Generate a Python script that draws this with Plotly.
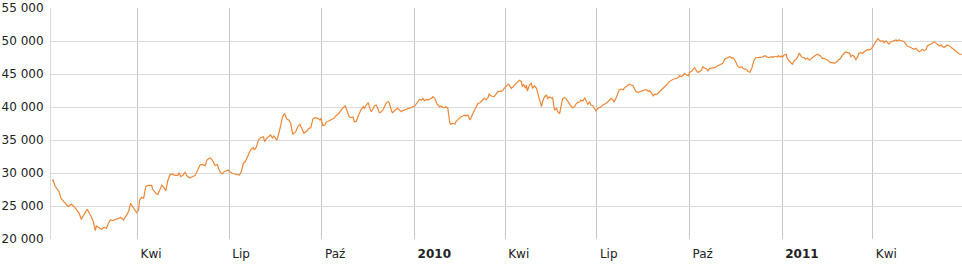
import plotly.graph_objects as go

dates = [
    "2009-01-06", "2009-01-07", "2009-01-09", "2009-01-12", "2009-01-13", "2009-01-15", "2009-01-17", "2009-01-19",
    "2009-01-22", "2009-01-24", "2009-01-25", "2009-01-28", "2009-01-30", "2009-02-02", "2009-02-04", "2009-02-06",
    "2009-02-08", "2009-02-10", "2009-02-12", "2009-02-14", "2009-02-16", "2009-02-18", "2009-02-19", "2009-02-22",
    "2009-02-24", "2009-02-27", "2009-03-01", "2009-03-03", "2009-03-05", "2009-03-08", "2009-03-10", "2009-03-13",
    "2009-03-15", "2009-03-18", "2009-03-20", "2009-03-23", "2009-03-25", "2009-03-27", "2009-03-29", "2009-03-31",
    "2009-04-02", "2009-04-03", "2009-04-05", "2009-04-07", "2009-04-09", "2009-04-11", "2009-04-15", "2009-04-16",
    "2009-04-19", "2009-04-21", "2009-04-23", "2009-04-25", "2009-04-27", "2009-04-29", "2009-05-01", "2009-05-03",
    "2009-05-05", "2009-05-08", "2009-05-11", "2009-05-12", "2009-05-14", "2009-05-16", "2009-05-18", "2009-05-20",
    "2009-05-23", "2009-05-25", "2009-05-28", "2009-05-30", "2009-06-02", "2009-06-04", "2009-06-07", "2009-06-09",
    "2009-06-12", "2009-06-14", "2009-06-16", "2009-06-17", "2009-06-19", "2009-06-22", "2009-06-24", "2009-06-26",
    "2009-06-30", "2009-07-02", "2009-07-05", "2009-07-08", "2009-07-11", "2009-07-13", "2009-07-15", "2009-07-17",
    "2009-07-19", "2009-07-21", "2009-07-23", "2009-07-25", "2009-07-26", "2009-07-28", "2009-07-30", "2009-08-01",
    "2009-08-04", "2009-08-05", "2009-08-07", "2009-08-09", "2009-08-11", "2009-08-13", "2009-08-14", "2009-08-17",
    "2009-08-18", "2009-08-20", "2009-08-22", "2009-08-23", "2009-08-25", "2009-08-27", "2009-08-29", "2009-08-31",
    "2009-09-02", "2009-09-05", "2009-09-07", "2009-09-09", "2009-09-11", "2009-09-13", "2009-09-16", "2009-09-18",
    "2009-09-20", "2009-09-22", "2009-09-24", "2009-09-27", "2009-09-29", "2009-09-30", "2009-10-02", "2009-10-04",
    "2009-10-05", "2009-10-08", "2009-10-10", "2009-10-13", "2009-10-15", "2009-10-18", "2009-10-20", "2009-10-22",
    "2009-10-24", "2009-10-25", "2009-10-28", "2009-10-30", "2009-11-01", "2009-11-02", "2009-11-04", "2009-11-06",
    "2009-11-07", "2009-11-09", "2009-11-11", "2009-11-12", "2009-11-14", "2009-11-16", "2009-11-17", "2009-11-19",
    "2009-11-21", "2009-11-22", "2009-11-24", "2009-11-26", "2009-11-27", "2009-11-29", "2009-12-01", "2009-12-02",
    "2009-12-04", "2009-12-06", "2009-12-07", "2009-12-09", "2009-12-10", "2009-12-12", "2009-12-14", "2009-12-15",
    "2009-12-17", "2009-12-19", "2009-12-20", "2009-12-22", "2009-12-25", "2009-12-29", "2010-01-01", "2010-01-03",
    "2010-01-04", "2010-01-06", "2010-01-08", "2010-01-09", "2010-01-11", "2010-01-13", "2010-01-14", "2010-01-16",
    "2010-01-18", "2010-01-19", "2010-01-21", "2010-01-23", "2010-01-24", "2010-01-26", "2010-01-27", "2010-01-29",
    "2010-01-31", "2010-02-01", "2010-02-03", "2010-02-05", "2010-02-06", "2010-02-08", "2010-02-10", "2010-02-11",
    "2010-02-13", "2010-02-15", "2010-02-16", "2010-02-18", "2010-02-20", "2010-02-21", "2010-02-23", "2010-02-25",
    "2010-02-26", "2010-02-28", "2010-03-02", "2010-03-03", "2010-03-05", "2010-03-07", "2010-03-10", "2010-03-11",
    "2010-03-13", "2010-03-15", "2010-03-16", "2010-03-18", "2010-03-21", "2010-03-23", "2010-03-25", "2010-03-28",
    "2010-03-30", "2010-03-31", "2010-04-02", "2010-04-04", "2010-04-05", "2010-04-07", "2010-04-09", "2010-04-10",
    "2010-04-12", "2010-04-14", "2010-04-15", "2010-04-17", "2010-04-18", "2010-04-19", "2010-04-21", "2010-04-22",
    "2010-04-23", "2010-04-25", "2010-04-27", "2010-04-28", "2010-04-30", "2010-05-02", "2010-05-03", "2010-05-05",
    "2010-05-07", "2010-05-08", "2010-05-10", "2010-05-12", "2010-05-13", "2010-05-15", "2010-05-17", "2010-05-18",
    "2010-05-20", "2010-05-22", "2010-05-23", "2010-05-25", "2010-05-27", "2010-05-28", "2010-05-30", "2010-05-31",
    "2010-06-02", "2010-06-04", "2010-06-05", "2010-06-07", "2010-06-09", "2010-06-10", "2010-06-12", "2010-06-14",
    "2010-06-15", "2010-06-17", "2010-06-19", "2010-06-20", "2010-06-22", "2010-06-24", "2010-06-25", "2010-06-27",
    "2010-06-29", "2010-06-30", "2010-07-02", "2010-07-04", "2010-07-05", "2010-07-07", "2010-07-09", "2010-07-10",
    "2010-07-12", "2010-07-14", "2010-07-15", "2010-07-17", "2010-07-18", "2010-07-20", "2010-07-22", "2010-07-23",
    "2010-07-25", "2010-07-27", "2010-07-28", "2010-07-30", "2010-08-01", "2010-08-02", "2010-08-04", "2010-08-06",
    "2010-08-07", "2010-08-09", "2010-08-11", "2010-08-14", "2010-08-17", "2010-08-19", "2010-08-21", "2010-08-22",
    "2010-08-24", "2010-08-26", "2010-08-27", "2010-08-29", "2010-08-31", "2010-09-01", "2010-09-03", "2010-09-05",
    "2010-09-06", "2010-09-08", "2010-09-10", "2010-09-11", "2010-09-13", "2010-09-15", "2010-09-16", "2010-09-18",
    "2010-09-20", "2010-09-21", "2010-09-23", "2010-09-25", "2010-09-26", "2010-09-28", "2010-09-30", "2010-10-01",
    "2010-10-03", "2010-10-04", "2010-10-06", "2010-10-08", "2010-10-09", "2010-10-11", "2010-10-13", "2010-10-14",
    "2010-10-16", "2010-10-18", "2010-10-19", "2010-10-21", "2010-10-23", "2010-10-26", "2010-10-29", "2010-11-02",
    "2010-11-03", "2010-11-05", "2010-11-07", "2010-11-08", "2010-11-10", "2010-11-12", "2010-11-13", "2010-11-15",
    "2010-11-17", "2010-11-18", "2010-11-20", "2010-11-22", "2010-11-23", "2010-11-25", "2010-11-27", "2010-11-28",
    "2010-11-30", "2010-12-02", "2010-12-03", "2010-12-04", "2010-12-06", "2010-12-08", "2010-12-10", "2010-12-12",
    "2010-12-13", "2010-12-15", "2010-12-17", "2010-12-18", "2010-12-20", "2010-12-22", "2010-12-23", "2010-12-25",
    "2010-12-27", "2010-12-28", "2010-12-30", "2010-12-31", "2011-01-01", "2011-01-03", "2011-01-05", "2011-01-06",
    "2011-01-08", "2011-01-10", "2011-01-11", "2011-01-13", "2011-01-15", "2011-01-16", "2011-01-18", "2011-01-20",
    "2011-01-21", "2011-01-23", "2011-01-24", "2011-01-26", "2011-01-28", "2011-01-29", "2011-01-31", "2011-02-02",
    "2011-02-03", "2011-02-05", "2011-02-07", "2011-02-08", "2011-02-10", "2011-02-12", "2011-02-13", "2011-02-15",
    "2011-02-17", "2011-02-18", "2011-02-20", "2011-02-22", "2011-02-23", "2011-02-25", "2011-02-27", "2011-02-28",
    "2011-03-02", "2011-03-04", "2011-03-05", "2011-03-07", "2011-03-09", "2011-03-10", "2011-03-12", "2011-03-14",
    "2011-03-15", "2011-03-17", "2011-03-18", "2011-03-20", "2011-03-22", "2011-03-23", "2011-03-25", "2011-03-27",
    "2011-03-28", "2011-03-30", "2011-04-01", "2011-04-02", "2011-04-03", "2011-04-05", "2011-04-06", "2011-04-08",
    "2011-04-09", "2011-04-11", "2011-04-12", "2011-04-14", "2011-04-16", "2011-04-17", "2011-04-19", "2011-04-21",
    "2011-04-22", "2011-04-24", "2011-04-25", "2011-04-27", "2011-04-29", "2011-04-30", "2011-05-02", "2011-05-04",
    "2011-05-05", "2011-05-07", "2011-05-09", "2011-05-10", "2011-05-12", "2011-05-14", "2011-05-15", "2011-05-17",
    "2011-05-19", "2011-05-20", "2011-05-22", "2011-05-24", "2011-05-25", "2011-05-27", "2011-05-29", "2011-05-30",
    "2011-06-01", "2011-06-03", "2011-06-04", "2011-06-06", "2011-06-08", "2011-06-09", "2011-06-11", "2011-06-13",
    "2011-06-14", "2011-06-16", "2011-06-18", "2011-06-19", "2011-06-21", "2011-06-23", "2011-06-24", "2011-06-26",
    "2011-06-28",
]

index_values = [
    28830, 28940, 28030, 27420, 27170, 26160, 25800, 25500,
    24890, 25150, 25300, 24890, 24500, 23890, 22980, 23480,
    24140, 24500, 23890, 23380, 22620, 21260, 21970, 21620,
    21470, 21770, 21620, 22380, 22880, 22770, 22980, 23080,
    23290, 22880, 23480, 24140, 25400, 24890, 24290, 23980,
    24390, 25910, 26320, 26160, 27920, 28130, 28130, 27530,
    26920, 26710, 27420, 28180, 27830, 27320, 28830, 29700,
    29850, 29650, 29650, 30040, 29440, 29650, 30150, 29550,
    29240, 29440, 29600, 30300, 31210, 31310, 31110, 32000,
    32320, 32000, 31490, 31110, 31310, 30100, 29890, 30200,
    30450, 30100, 29890, 29790, 29700, 30200, 31490, 31740,
    32500, 33140, 33640, 33830, 33490, 33980, 35000, 35350,
    35500, 34740, 35250, 35500, 35760, 35250, 35650, 35000,
    35350, 36510, 38030, 38530, 39040, 38180, 38030, 37530,
    35860, 36260, 37010, 37380, 36770, 36010, 36360, 36770,
    36860, 38180, 38380, 38290, 38030, 38290, 37170, 37270,
    37680, 37880, 38030, 38290, 38680, 39040, 39540, 39890,
    40190, 39850, 38530, 38380, 38480, 37780, 37770, 38630,
    39040, 39650, 40050, 39800, 40300, 40650, 40050, 39290,
    39800, 40150, 40300, 39650, 39140, 39290, 39650, 40050,
    40650, 40800, 40560, 39440, 39140, 39440, 39650, 39800,
    39540, 39290, 39440, 39540, 39650, 39950, 40150, 40560,
    40800, 41160, 41060, 41310, 40950, 41160, 41060, 41160,
    41310, 41560, 41310, 40560, 40300, 40050, 40150, 39950,
    39900, 40050, 39800, 37530, 37380, 37530, 37380, 37770,
    38130, 38440, 38530, 38630, 38790, 38630, 38790, 38030,
    38440, 39040, 39650, 40050, 40560, 40650, 41060, 41310,
    41060, 41460, 41970, 41670, 41560, 42000, 42370, 42370,
    42570, 42830, 43220, 43440, 43330, 42830, 43070, 43330,
    43590, 43840, 44040, 43840, 43070, 43440, 42830, 43330,
    42420, 43330, 43590, 42830, 43220, 42830, 42220, 41310,
    40050, 40800, 41560, 41820, 41310, 41560, 41310, 41410,
    39540, 39800, 39290, 39040, 40400, 41310, 41410, 41310,
    40900, 40400, 40190, 39890, 40050, 40400, 40710, 40800,
    41060, 40900, 41360, 41060, 40400, 40800, 40300, 40190,
    39540, 39390, 39800, 39900, 40050, 40300, 40400, 40560,
    40800, 41210, 41310, 41060, 40800, 41310, 42220, 42570,
    42720, 42570, 42830, 43070, 43330, 43440, 43330, 43220,
    42830, 42320, 42220, 42420, 42570, 42650, 42370, 42500,
    42200, 41640, 41950, 41920, 42070, 42320, 42570, 42830,
    43070, 43330, 43740, 43840, 44090, 44240, 44240, 44350,
    44450, 44750, 44600, 44850, 45100, 44850, 44750, 45260,
    45360, 45610, 45960, 45460, 45260, 45360, 45610, 46110,
    45860, 45760, 45460, 45860, 45860, 45960, 46260, 46470,
    46620, 47270, 47380, 47470, 47630, 47380, 47470, 47120,
    46470, 46110, 45960, 46110, 45860, 45760, 45610, 45360,
    45260, 45960, 46620, 47120, 47470, 47470, 47570, 47570,
    47630, 47780, 47570, 47470, 47570, 47630, 47530, 47680,
    47570, 47780, 47570, 47730, 47570, 47880, 47990, 47380,
    46970, 46620, 46470, 47050, 47250, 47500, 48180, 47680,
    47500, 47450, 47230, 47380, 47120, 47230, 47530, 47730,
    47830, 47990, 47880, 47730, 47380, 47380, 47230, 47120,
    46820, 46720, 46720, 46620, 46720, 47020, 47230, 47380,
    47880, 48230, 48330, 48230, 48130, 47630, 47880, 47530,
    47120, 47630, 48130, 48230, 48130, 48330, 48540, 48740,
    48640, 48740, 49140, 49540, 49650, 50150, 50350, 50040,
    49950, 50040, 49750, 50040, 49650, 49540, 49900, 50040,
    50040, 50150, 50040, 50150, 50040, 50040, 49900, 49540,
    49240, 49140, 49040, 48890, 48740, 48890, 48640, 48380,
    48540, 48740, 48540, 48740, 49240, 49390, 49540, 49650,
    49900, 49650, 49540, 49240, 49390, 49140, 49040, 49240,
    49390, 49240, 49040, 48890, 48640, 48380, 48230, 48030,
    47930,
]

x_tick_dates = ["2009-04-01", "2009-07-01", "2009-10-01", "2010-01-01", "2010-04-01",
                "2010-07-01", "2010-10-01", "2011-01-01", "2011-04-01"]
x_tick_labels = ["Kwi", "Lip", "Paź", "<b>2010</b>", "Kwi", "Lip", "Paź", "<b>2011</b>", "Kwi"]

y_tick_values = [20000, 25000, 30000, 35000, 40000, 45000, 50000, 55000]
y_tick_labels = ["20 000", "25 000", "30 000", "35 000", "40 000", "45 000", "50 000", "55 000"]

fig = go.Figure()
fig.add_trace(go.Scatter(
    x=dates, y=index_values, mode="lines",
    line=dict(color="#EE8736", width=1.2),
    hoverinfo="x+y", showlegend=False,
))

fig.update_layout(
    width=962, height=267,
    margin=dict(l=51, r=0, t=8, b=28),
    paper_bgcolor="white", plot_bgcolor="white",
    font=dict(family="DejaVu Sans, Verdana, sans-serif", size=12, color="#222222"),
)

fig.update_xaxes(
    type="date",
    range=["2009-01-05", "2011-06-28 12:00"],
    tickmode="array", tickvals=x_tick_dates, ticktext=x_tick_labels,
    ticklabelposition="outside right", ticklabelshift=3, ticklabelstandoff=6,
    showgrid=True, gridcolor="#c6c6c6", gridwidth=1,
    ticks="", showline=False, zeroline=False,
    tickfont=dict(size=12, color="#222222"),
)

fig.update_yaxes(
    range=[20000, 55000],
    tickmode="array", tickvals=y_tick_values, ticktext=y_tick_labels,
    showgrid=True, gridcolor="#dadada", gridwidth=1,
    ticks="", zeroline=False,
    showline=True, linecolor="#dadada", linewidth=1,
    ticklabelstandoff=4,
    tickfont=dict(size=12, color="#222222"),
)

fig.write_html("out.html")
